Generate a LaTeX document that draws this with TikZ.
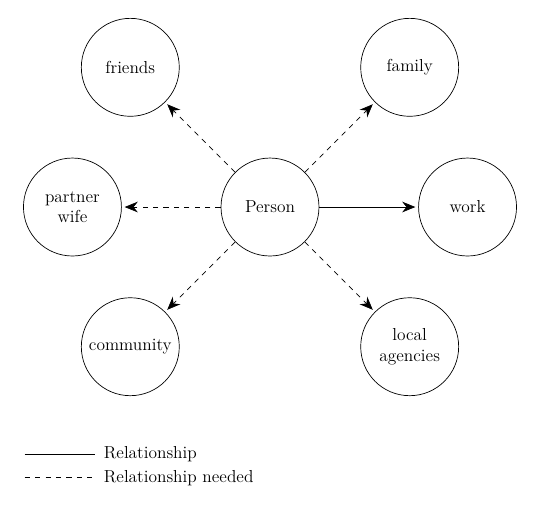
\documentclass[tikz,border=0pt]{standalone}
\usetikzlibrary{positioning, arrows.meta}

\begin{document}
\begin{tikzpicture}[
        font=\large,
        line width=0.48pt,
        % --- styles ---
        % 1. the circles
        entity/.style={
                draw,
                circle,
                align=center,
                minimum size=2.38cm,
                inner sep=1pt
            },
        % 2. connectors
        link/.style={
                -{Stealth[length=3.2mm, width=2.6mm]},
                shorten >=2pt
            },
        dashline/.style={
                dash pattern=on 3.6pt off 3.6pt
            },
        needed/.style={
                link,
                dashline
            },
        % 3. legend text
        legend/.style={
                right=0.1cm,
                anchor=west
            }
    ]
    \useasboundingbox (-6.56,-7.22) rectangle (6.56,5.03);

    % 1. Center
    \node[entity] (person) {Person};

    % 2. Surrounding circles
    \node[entity] (friends) at (135:4.8) {friends};
    \node[entity] (family) at (45:4.8) {family};
    \node[entity] (partner) at (180:4.8) {partner\\wife};
    \node[entity] (work) at (0:4.8) {work};
    \node[entity] (community) at (-135:4.8) {community};
    \node[entity] (agencies) at (-45:4.8) {local\\agencies};

    % 3. Connectors
    \draw[needed] (person) -- (friends);
    \draw[needed] (person) -- (family);
    \draw[needed] (person) -- (partner);
    \draw[link] (person) -- (work);
    \draw[needed] (person) -- (community);
    \draw[needed] (person) -- (agencies);

    % 4. Legend
    \coordinate (solidA) at (-5.96,-6.0);
    \coordinate (solidB) at (-4.26,-6.0);
    \coordinate (dashA) at (-5.96,-6.58);
    \coordinate (dashB) at (-4.26,-6.58);
    \draw (solidA) -- (solidB) node[legend] {Relationship};
    \draw[dashline] (dashA) -- (dashB) node[legend] {Relationship needed};

\end{tikzpicture}
\end{document}
